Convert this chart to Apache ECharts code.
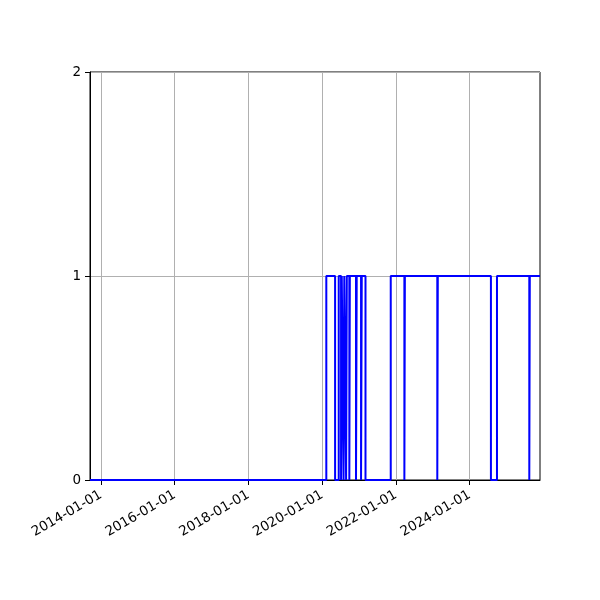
<!DOCTYPE html>
<html>
<head>
<meta charset="utf-8">
<script src="https://cdn.jsdelivr.net/npm/echarts@6/dist/echarts.min.js"></script>
<style>
html,body{margin:0;padding:0;background:#fff;}
#c{width:600px;height:600px;}
</style>
</head>
<body>
<div id="c"></div>
<script>
// step series: value holds from each date until the next date
var dates = [
  '2013-09-15','2020-02-11','2020-05-08','2020-06-13',
  '2020-07-06','2020-07-13','2020-07-31','2020-08-07',
  '2020-08-25','2020-09-01','2020-09-26','2020-10-01',
  '2020-12-01','2020-12-08','2021-01-20','2021-01-27',
  '2021-03-05','2021-11-10','2022-03-25','2022-03-30',
  '2023-02-14','2023-02-19','2024-07-29','2024-09-27',
  '2025-08-13','2025-08-18','2025-11-27'
];
var values = [
  0,1,0,1,
  0,1,0,1,
  0,1,0,1,
  0,1,0,1,
  0,1,0,1,
  0,1,0,1,
  0,1,1
];
var xTickLabels = ['2014-01-01','2016-01-01','2018-01-01','2020-01-01','2022-01-01','2024-01-01'];
var yTicks = [0,1,2];
var xMinDate = '2013-09-15';
var xMaxDate = '2025-11-27';

function ts(s){ return new Date(s + 'T00:00:00Z').getTime(); }
var seriesData = dates.map(function(d,i){ return [ts(d), values[i]]; });
var tickVals = xTickLabels.map(ts);

var chart = echarts.init(document.getElementById('c'), null, {renderer:'canvas'});
var font = 'DejaVu Sans';
chart.setOption({
  animation: false,
  backgroundColor: '#ffffff',
  grid: {left: 90, right: 60, top: 72, bottom: 120, show: true, borderColor: '#000', borderWidth: 1, backgroundColor: 'transparent'},
  xAxis: {
    type: 'value',
    min: ts(xMinDate),
    max: ts(xMaxDate),
    axisLine: {show: true, onZero: false, lineStyle: {color: '#000', width: 1}},
    axisTick: {show: true, length: 5, inside: false, lineStyle: {color: '#000'}, customValues: tickVals},
    axisLabel: {
      show: true, color: '#000', fontFamily: font, fontSize: 13.5, rotate: 30, margin: 14,
      customValues: tickVals,
      showMinLabel: true, showMaxLabel: true,
      formatter: function(v){
        var d = new Date(v);
        var m = String(d.getUTCMonth()+1).padStart(2,'0');
        var dd = String(d.getUTCDate()).padStart(2,'0');
        return d.getUTCFullYear() + '-' + m + '-' + dd;
      }
    },
    splitLine: {show: false}
  },
  yAxis: {
    type: 'value',
    min: yTicks[0], max: yTicks[yTicks.length-1], interval: 1,
    axisLine: {show: true, lineStyle: {color: '#000', width: 1}},
    axisTick: {show: true, length: 5, lineStyle: {color: '#000'}},
    axisLabel: {color: '#000', fontFamily: font, fontSize: 13.5, margin: 9},
    splitLine: {show: true, lineStyle: {color: '#b0b0b0', width: 1}}
  },
  series: [{
    type: 'line',
    step: 'end',
    data: seriesData,
    showSymbol: false,
    symbol: 'none',
    lineStyle: {color: '#0000ff', width: 2},
    z: 5,
    markLine: {
      silent: true,
      symbol: 'none',
      label: {show: false},
      lineStyle: {color: '#b0b0b0', width: 1, type: 'solid'},
      z: 1,
      data: tickVals.map(function(v){ return {xAxis: v}; })
    }
  }]
});
</script>
</body>
</html>
